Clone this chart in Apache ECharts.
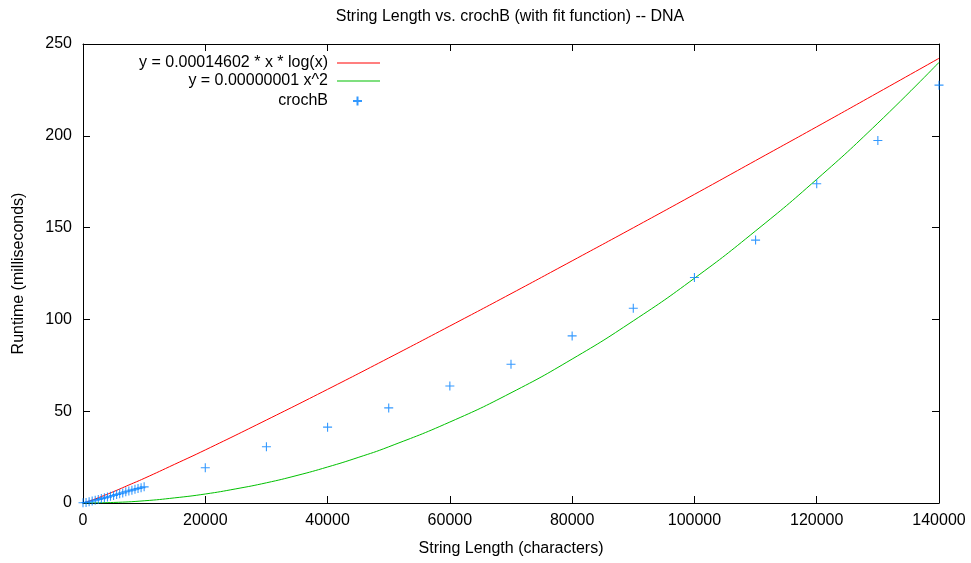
<!DOCTYPE html>
<html>
<head>
<meta charset="utf-8">
<script src="https://cdn.jsdelivr.net/npm/echarts@6/dist/echarts.min.js"></script>
<style>html,body{margin:0;padding:0;background:#fff}#c{width:971px;height:563px}</style>
</head>
<body>
<div id="c"></div>
<script>
// ---- data ----
var titleText = 'String Length vs. crochB (with fit function) -- DNA';
var xName = 'String Length (characters)';
var yName = 'Runtime (milliseconds)';
var nameRed = 'y = 0.00014602 * x * log(x)';
var nameGreen = 'y = 0.00000001 x^2';
var nameData = 'crochB';

var lengths = [0,500,1000,1500,2000,2500,3000,3500,4000,4500,5000,5500,6000,6500,7000,7500,8000,8500,9000,9500,10000,
  20000,30000,40000,50000,60000,70000,80000,90000,100000,110000,120000,130000,140000];
var crochB = [0.1,0.3,0.7,1.1,1.5,1.9,2.4,2.8,3.2,3.7,4.1,4.6,5.0,5.5,6.1,6.5,7.0,7.5,7.9,8.3,8.8,
  19.2,30.6,41.3,51.8,63.7,75.6,91.0,106.1,122.8,143.2,173.9,197.4,227.6];

var redX = [0,500,1000,2000,3000,5000,7500,10000,15000,20000,30000,40000,50000,60000,70000,80000,90000,100000,110000,120000,130000,140000];
var redY = [0,0.45,1.0,2.2,3.5,6.2,9.8,13.4,21.1,28.9,45.2,61.9,79.0,96.4,114.0,131.9,149.9,168.1,186.5,204.9,223.5,242.2];

var greenX = [0,5000,10000,15000,20000,25000,30000,35000,40000,45000,50000,60000,70000,80000,90000,100000,110000,120000,130000,140000];
var greenY = [0,0.3,1.2,2.8,4.9,7.7,11.0,15.0,19.6,24.8,30.6,44.1,60.0,78.4,99.2,122.4,148.2,176.3,206.9,240.0];

var xMin = 0, xMax = 140000, xStep = 20000;
var yMin = 0, yMax = 250, yStep = 50;

function zip(a, b) { return a.map(function (v, i) { return [v, b[i]]; }); }

var FONT = 'Liberation Sans, Arial, sans-serif';
var FS = 16;
var chart = echarts.init(document.getElementById('c'), null, {renderer: 'canvas'});
var axisCommon = {
  axisLine: {show: true, onZero: false, lineStyle: {color: '#000', width: 1}},
  axisTick: {show: true, inside: true, length: 7, lineStyle: {color: '#000'}},
  splitLine: {show: false}
};
var plusPath = 'path://M5,0V10M0,5H10';
var legendText = {fontFamily: FONT, fontSize: FS, color: '#000'};
chart.setOption({
  animation: false,
  backgroundColor: '#fff',
  title: {
    text: titleText, left: 505, top: 4, textAlign: 'center',
    textStyle: {fontFamily: FONT, fontSize: FS, fontWeight: 'normal', color: '#000'}
  },
  grid: {left: 83, right: 32, top: 44, bottom: 60, containLabel: false},
  legend: [
    {data: [nameRed], orient: 'vertical', align: 'right', right: 586, top: 50, icon: 'rect', itemWidth: 43, itemHeight: 1,
     textStyle: Object.assign({padding: [0, 4, 0, 0]}, legendText)},
    {data: [nameGreen], orient: 'vertical', align: 'right', right: 586, top: 68, icon: 'rect', itemWidth: 43, itemHeight: 1,
     textStyle: Object.assign({padding: [0, 4, 0, 0]}, legendText)},
    {data: [nameData], orient: 'vertical', align: 'right', right: 603, top: 88, itemWidth: 9, itemHeight: 9,
     textStyle: Object.assign({padding: [0, 20, 0, 0]}, legendText)}
  ],
  xAxis: [
    Object.assign({type: 'value', position: 'bottom', min: xMin, max: xMax, interval: xStep,
      name: xName, nameLocation: 'middle', nameGap: 38,
      nameTextStyle: {fontFamily: FONT, fontSize: FS, color: '#000'},
      axisLabel: {fontFamily: FONT, fontSize: FS, color: '#000', margin: 10, showMaxLabel: true,
        formatter: function (v) { return String(v); }}}, axisCommon),
    Object.assign({type: 'value', position: 'top', min: xMin, max: xMax, interval: xStep,
      axisLabel: {show: false}}, axisCommon)
  ],
  yAxis: [
    Object.assign({type: 'value', position: 'left', min: yMin, max: yMax, interval: yStep,
      name: yName, nameLocation: 'middle', nameGap: 56, nameRotate: 90,
      nameTextStyle: {fontFamily: FONT, fontSize: FS, color: '#000'},
      axisLabel: {fontFamily: FONT, fontSize: FS, color: '#000', margin: 11}}, axisCommon),
    Object.assign({type: 'value', position: 'right', min: yMin, max: yMax, interval: yStep,
      axisLabel: {show: false}}, axisCommon)
  ],
  series: [
    {name: nameRed, type: 'line', data: zip(redX, redY), symbol: 'none', smooth: true,
     lineStyle: {color: '#ff0000', width: 1}, itemStyle: {color: '#ff0000'}, z: 2},
    {name: nameGreen, type: 'line', data: zip(greenX, greenY), symbol: 'none', smooth: true,
     lineStyle: {color: '#00c000', width: 1}, itemStyle: {color: '#00c000'}, z: 2},
    {name: nameData, type: 'scatter', data: zip(lengths, crochB), symbol: plusPath, symbolSize: 9,
     itemStyle: {color: 'rgba(0,0,0,0)', borderColor: '#0080ff', borderWidth: 1.1}, z: 3}
  ]
});
</script>
</body>
</html>
